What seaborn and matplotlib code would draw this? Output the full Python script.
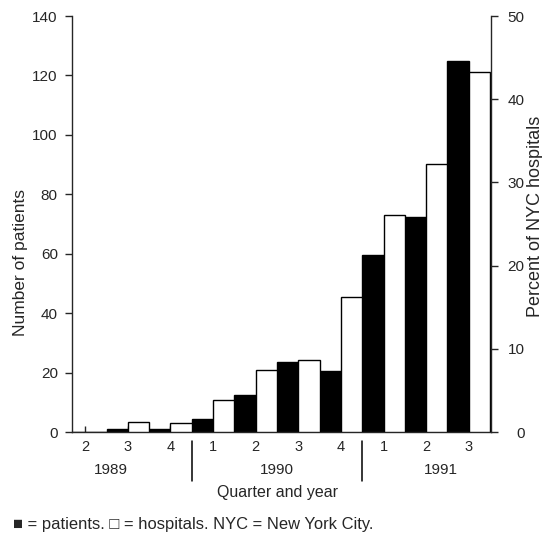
import numpy as np
import matplotlib
matplotlib.use("Agg")
import matplotlib.pyplot as plt
import matplotlib.transforms as mtransforms
import seaborn as sns

# Quarterly counts, mid-1989 to late 1991
quarter_labels = ["2", "3", "4", "1", "2", "3", "4", "1", "2", "3"]
year_labels = ["1989", "1990", "1991"]
patients = [0, 1, 1, 4.5, 12.6, 23.5, 20.4, 59.5, 72.5, 125]
hospitals_pct = [0, 1.2, 1.1, 3.8, 7.5, 8.7, 16.2, 26.1, 32.2, 43.3]

sns.set_style("ticks")
plt.rcParams["font.family"] = ["Liberation Sans", "DejaVu Sans"]
plt.rcParams["axes.linewidth"] = 1.0

fig = plt.figure(figsize=(5.42, 5.36), dpi=100)
ax = fig.add_axes([0.1323, 0.194, 0.7727, 0.776])
ax2 = ax.twinx()

pos = np.arange(len(quarter_labels))

# patients (left scale) in black, hospitals (right scale) in white
sns.barplot(x=pos - 0.25, y=patients, native_scale=True, width=0.5,
            color="black", edgecolor="black", linewidth=1.0, saturation=1,
            errorbar=None, ax=ax)
sns.barplot(x=pos + 0.25, y=hospitals_pct, native_scale=True, width=0.5,
            color="white", edgecolor="black", linewidth=1.0, saturation=1,
            errorbar=None, ax=ax2)

ax.set_xlim(-0.317, 9.51)
ax.set_ylim(0, 140)
ax2.set_ylim(0, 50)

for s in ("top", "right"):
    ax.spines[s].set_visible(False)
for s in ("top", "left", "bottom"):
    ax2.spines[s].set_visible(False)

ax.set_yticks(range(0, 141, 20))
ax.tick_params(axis="y", direction="out", length=5, width=1.0,
               labelsize=11, pad=5)
ax.set_xticks(pos)
ax.set_xticklabels([])
ax.tick_params(axis="x", direction="in", length=4, width=1.0)

ax2.set_yticks(range(0, 51, 10))
ax2.tick_params(axis="y", direction="out", length=5, width=1.0,
                labelsize=11, pad=19.5)
for lbl in ax2.get_yticklabels():
    lbl.set_horizontalalignment("right")

ax.set_xlabel("")
ax.set_ylabel("")
ax2.set_ylabel("")

trans = mtransforms.blended_transform_factory(ax.transData, ax.transAxes)
for i, q in enumerate(quarter_labels):
    ax.text(pos[i], -0.037, q, transform=trans, ha="center", va="center",
            fontsize=10.5)

for x, yr in zip([0.6, 4.5, 8.35], year_labels):
    ax.text(x, -0.0915, yr, transform=trans, ha="center", va="center",
            fontsize=11)

for x in (2.5, 6.5):
    ax.plot([x, x], [-0.0216, -0.118], transform=trans, color="black",
            lw=1.1, clip_on=False)

ax.text(0.491, -0.1555, "Quarter and year", transform=ax.transAxes,
        ha="center", va="baseline", fontsize=11.5)

fig.text(21 / 542, 1 - 262 / 536, "Number of patients", rotation=90,
         ha="center", va="center", fontsize=12.5)
fig.text(535 / 542, 1 - 216 / 536, "Percent of NYC hospitals", rotation=90,
         ha="center", va="center", fontsize=13)

fig.text(13 / 542, 1 - 529.5 / 536,
         "\u25a0 = patients. \u25a1 = hospitals. NYC = New York City.",
         ha="left", va="baseline", fontsize=11.9)

fig.savefig("out.png", dpi=100)
